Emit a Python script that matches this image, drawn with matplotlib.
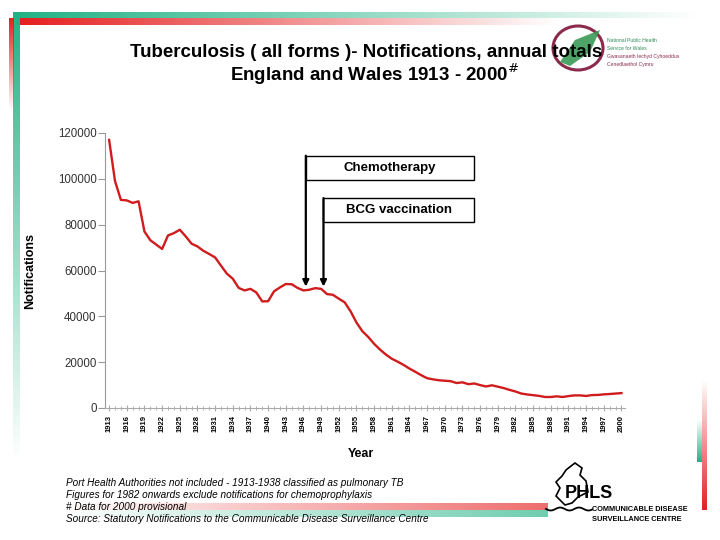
import numpy as np
import matplotlib.pyplot as plt
from matplotlib.patches import Rectangle, Ellipse, Polygon

## DONNÉES
years = list(range(1913, 2001))
notifications = [
    117000, 99000, 90800, 90600, 89500, 90200, 77000, 73200, 71300, 69400,   # 1913-1922
    75300, 76300, 77800, 74900, 71700, 70500, 68600, 67200, 65700, 62100,    # 1923-1932
    58600, 56400, 52400, 51300, 52000, 50400, 46500, 46600, 50900, 52600,    # 1933-1942
    54100, 54000, 52400, 51300, 51600, 52300, 52000, 49700, 49400, 47700,    # 1943-1952
    46100, 42200, 37300, 33500, 31000, 28000, 25500, 23300, 21500, 20200,    # 1953-1962
    18800, 17200, 15800, 14300, 13000, 12500, 12100, 11900, 11700, 10900,    # 1963-1972
    11200, 10400, 10700, 10000, 9400, 9900, 9300, 8700, 7900, 7200,          # 1973-1982
    6300, 5900, 5600, 5300, 4800, 4800, 5100, 4800, 5200, 5500,              # 1983-1992
    5500, 5250, 5650, 5700, 5950, 6100, 6300, 6500,                          # 1993-2000
]
tick_years = list(range(1913, 2001, 3))
y_ticks = [0, 20000, 40000, 60000, 80000, 100000, 120000]

chemo_year = 1946.4
bcg_year = 1949.4

title1 = "Tuberculosis ( all forms )- Notifications, annual totals"
title2 = "England and Wales 1913 - 2000$^{\\#}$"
footnotes = [
    "Port Health Authorities not included - 1913-1938 classified as pulmonary TB",
    "Figures for 1982 onwards exclude notifications for chemoprophylaxis",
    "# Data for 2000 provisional",
    "Source: Statutory Notifications to the Communicable Disease Surveillance Centre",
]

plt.rcParams['font.family'] = ['Liberation Sans', 'DejaVu Sans']

fig = plt.figure(figsize=(7.2, 5.4), dpi=100)

## DÉCOR DE LA DIAPO (coordonnées en pixels)
bg = fig.add_axes([0, 0, 1, 1], zorder=0)
bg.set_xlim(0, 720)
bg.set_ylim(540, 0)
bg.axis('off')


def bande(x0, x1, y0, y1, rgb, vertical=False, inverse=False, amax=1.0):
    n = 256
    a = np.linspace(amax, 0, n)
    if inverse:
        a = a[::-1]
    img = np.zeros((1, n, 4)) if not vertical else np.zeros((n, 1, 4))
    img[..., 0], img[..., 1], img[..., 2] = rgb
    img[..., 3] = a.reshape(img.shape[:2])
    bg.imshow(img, extent=(x0, x1, y1, y0), aspect='auto', interpolation='bilinear')


green = (0.13, 0.70, 0.52)
red = (0.90, 0.12, 0.12)
bande(13, 700, 12, 18, green)
bande(17, 560, 18, 25, red)
bande(13, 20, 12, 460, green, vertical=True)
bande(9, 14, 18, 110, red, vertical=True)
bande(60, 548, 503, 510, red, inverse=True, amax=0.65)
bande(60, 548, 510, 517, green, inverse=True, amax=0.65)
bande(697, 702, 420, 462, green, vertical=True, inverse=True)
bande(702, 707, 380, 510, red, vertical=True, inverse=True)

# logo NPHS Wales
bg.add_patch(Ellipse((578, 48), 50, 44, facecolor='none', edgecolor='#8b2a4a', lw=2.2))
bg.add_patch(Polygon([(560, 62), (575, 40), (600, 30), (590, 52), (570, 66)],
                     closed=True, facecolor='#3a9a55', edgecolor='none', alpha=0.9))
for i, (txt, col) in enumerate([("National Public Health", '#2e8b57'),
                                ("Service for Wales", '#2e8b57'),
                                ("Gwasanaeth Iechyd Cyhoeddus", '#8b2a4a'),
                                ("Cenedlaethol Cymru", '#8b2a4a')]):
    bg.text(607, 42 + i * 8, txt, fontsize=3.6, color=col, va='baseline')

# logo PHLS
carte = [(575, 463), (582, 468), (580, 475), (586, 481), (588, 492), (578, 497),
         (572, 503), (565, 505), (560, 500), (556, 496), (560, 488), (556, 482),
         (562, 476), (566, 470), (571, 466), (575, 463)]
bg.add_patch(Polygon(carte, closed=True, facecolor='none', edgecolor='black', lw=1.2))
xs = np.linspace(546, 592, 40)
bg.plot(xs, 509 + 1.5 * np.sin((xs - 546) / 3.0), color='black', lw=1.3)
bg.text(565, 498, "PHLS", fontsize=13, fontweight='bold', va='baseline')
bg.text(592, 511, "COMMUNICABLE DISEASE", fontsize=5.3, fontweight='bold', va='baseline')
bg.text(592, 521, "SURVEILLANCE CENTRE", fontsize=5.3, fontweight='bold', va='baseline')

## TITRE
bg.text(366, 57, title1, fontsize=13.5, fontweight='bold', ha='center', va='baseline')
bg.text(375, 81, title2, fontsize=13.5, fontweight='bold', ha='center', va='baseline')

## GRAPHIQUE
ax = fig.add_axes([105 / 720, 1 - 408 / 540, 520 / 720, 275 / 540], zorder=1)
ax.set_facecolor('none')
ax.plot(years, notifications, color='#d01c1c', lw=1.7)
ax.set_xlim(1912.3, 2000.6)
ax.set_ylim(0, 120000)

ax.set_yticks(y_ticks)
ax.set_yticklabels([str(v) for v in y_ticks], fontsize=8.3, color='#333333')
ax.set_xticks(tick_years)
ax.set_xticklabels([str(y) for y in tick_years], rotation=90, fontsize=5.5,
                   fontweight='bold')
ax.set_xticks(years, minor=True)
ax.tick_params(axis='y', length=5, color='#999999', pad=1)
ax.tick_params(axis='x', which='both', direction='inout', length=4,
               color='#aaaaaa', pad=3)
ax.tick_params(axis='x', which='minor', length=3)
for s in ['top', 'right']:
    ax.spines[s].set_visible(False)
ax.spines['left'].set_color('#999999')
ax.spines['bottom'].set_color('#aaaaaa')

## ANNOTATIONS
ax.add_patch(Rectangle((chemo_year, 99600), 1975.0 - chemo_year, 10500,
                       facecolor='white', edgecolor='black', lw=1.0))
ax.add_patch(Rectangle((bcg_year, 81300), 1975.0 - bcg_year, 10300,
                       facecolor='white', edgecolor='black', lw=1.0))
ax.text((chemo_year + 1975.0) / 2, 104850, "Chemotherapy", fontsize=9.5,
        fontweight='bold', ha='center', va='center')
ax.text((bcg_year + 1975.0) / 2, 86450, "BCG vaccination", fontsize=9.5,
        fontweight='bold', ha='center', va='center')
for yr, top in [(chemo_year, 110100), (bcg_year, 91600)]:
    ax.annotate("", xy=(yr, 53000), xytext=(yr, top),
                arrowprops=dict(arrowstyle='-|>', color='black', lw=1.6,
                                mutation_scale=9, shrinkA=0, shrinkB=0))

## LÉGENDES DES AXES
bg.text(30, 271, "Notifications", fontsize=9, fontweight='bold',
        rotation=90, ha='center', va='center')
bg.text(361, 454, "Year", fontsize=9, fontweight='bold', ha='center', va='center')

## NOTES
for i, txt in enumerate(footnotes):
    bg.text(66, 486 + i * 12, txt, fontsize=7.2, style='italic', va='baseline')

fig.savefig("out.png", dpi=100)
